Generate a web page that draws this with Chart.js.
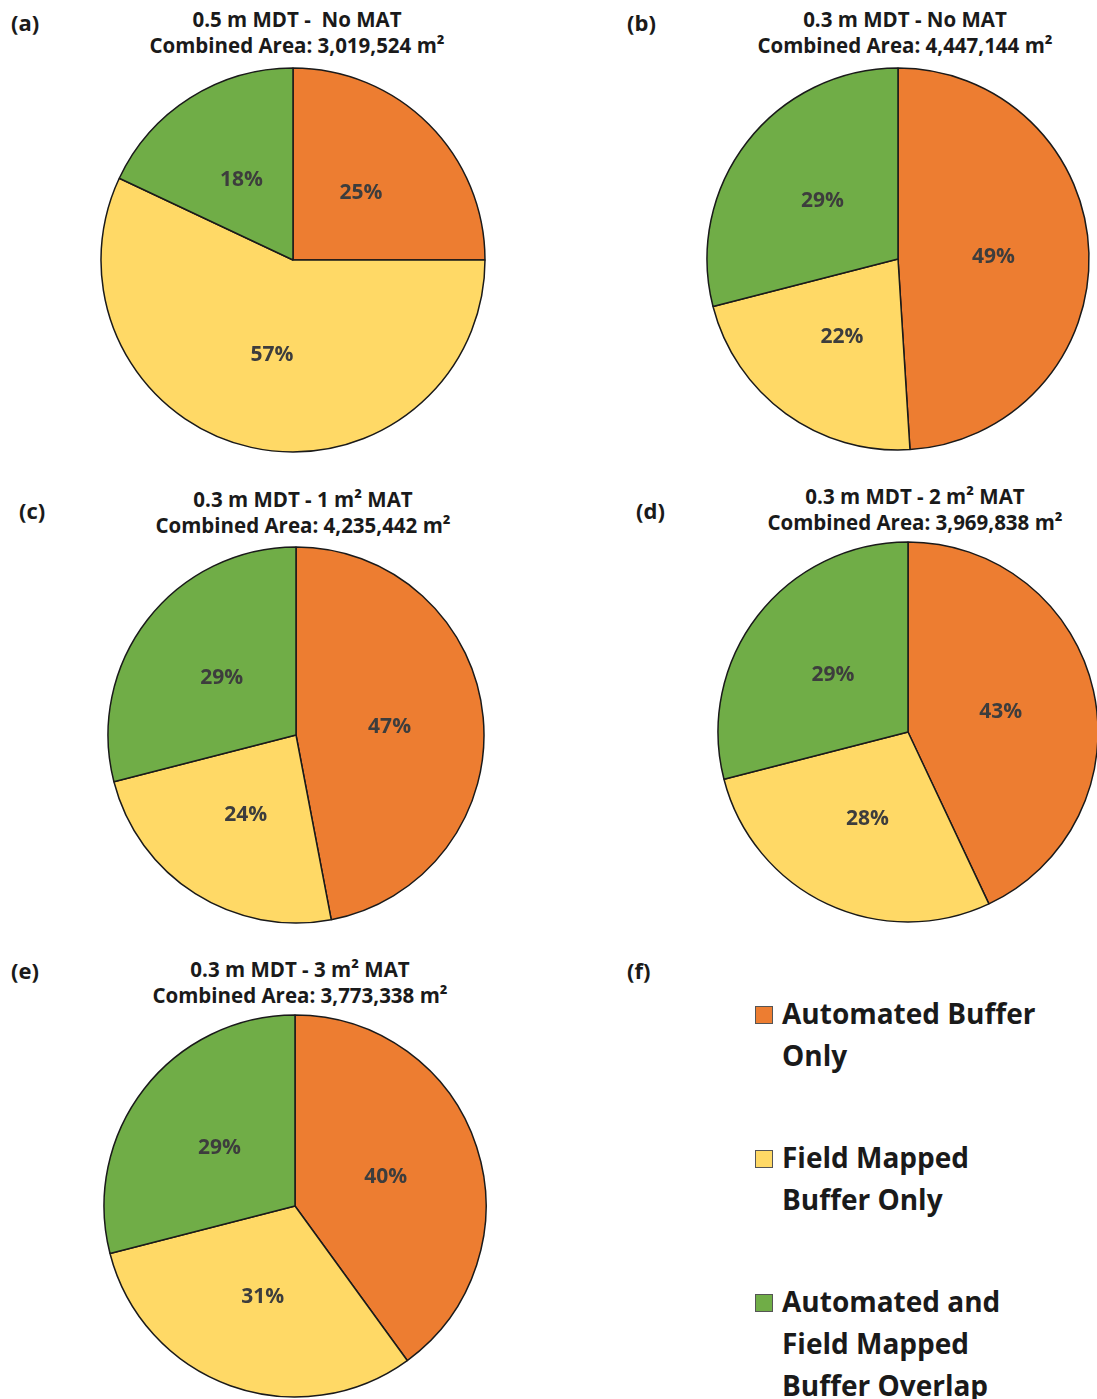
<!DOCTYPE html>
<html>
<head>
<meta charset="utf-8">
<script src="https://cdn.jsdelivr.net/npm/chart.js@4.4.0/dist/chart.umd.min.js"></script>
<style>
  body { margin: 0; background: #fff; font-family: "Open Sans", Lato, sans-serif; }
  #page { position: relative; width: 1097px; height: 1399px; overflow: hidden; }
  .letter { position: absolute; font-weight: bold; font-size: 22px; line-height: 28px; color: #1a1a1a; }
  .title { position: absolute; width: 420px; text-align: center; font-weight: bold; font-size: 20.5px;
           line-height: 25.5px; color: #1a1a1a; white-space: pre; }
  canvas.pie { position: absolute; }
  .legend-item { position: absolute; left: 755px; }
  .legend-box { position: absolute; left: 0; top: 14px; width: 16px; height: 16px; border: 1px solid #555; }
  .legend-text { position: absolute; left: 27px; top: 0; width: 330px; white-space: pre-line;
                 font-weight: bold; font-size: 28px; line-height: 42px; color: #1a1a1a; }
</style>
</head>
<body>
<div id="page"></div>
<script>
// --- data ---
const categories = ['Automated Buffer\nOnly', 'Field Mapped\nBuffer Only', 'Automated and\nField Mapped\nBuffer Overlap'];
const colors = ['#ED7D31', '#FFD966', '#70AD47'];

const panelLetters = ['(a)', '(b)', '(c)', '(d)', '(e)', '(f)'];
const panelTitles = ['0.5 m MDT -  No MAT', '0.3 m MDT - No MAT', '0.3 m MDT - 1 m² MAT',
                     '0.3 m MDT - 2 m² MAT', '0.3 m MDT - 3 m² MAT'];
const combinedAreas = ['3,019,524', '4,447,144', '4,235,442', '3,969,838', '3,773,338'];

const automatedOnly = [25, 49, 47, 43, 40];
const fieldOnly     = [57, 22, 24, 28, 31];
const overlap       = [18, 29, 29, 29, 29];

// --- layout (page pixels) ---
const letterPos = [[11, 8], [627, 8], [19, 496], [636, 496], [11, 956], [627, 956]];
const pieLayout = [
  { cx: 293, cy: 260, r: 192, tx: 297, ty: 7 },
  { cx: 898, cy: 259, r: 191, tx: 905, ty: 7 },
  { cx: 296, cy: 735, r: 188, tx: 303, ty: 487 },
  { cx: 908, cy: 732, r: 190, tx: 915, ty: 484 },
  { cx: 295, cy: 1206, r: 191, tx: 300, ty: 957 }
];
const legendTops = [992, 1136, 1280];

const page = document.getElementById('page');

panelLetters.forEach(function(t, i) {
  const d = document.createElement('div');
  d.className = 'letter';
  d.textContent = t;
  d.style.left = letterPos[i][0] + 'px';
  d.style.top = letterPos[i][1] + 'px';
  page.appendChild(d);
});

// percent labels inside slices
const sliceLabels = {
  id: 'sliceLabels',
  afterDatasetsDraw: function(chart) {
    const ctx = chart.ctx;
    const meta = chart.getDatasetMeta(0);
    const values = chart.data.datasets[0].data;
    ctx.save();
    ctx.font = 'bold 21px "Open Sans", Lato, sans-serif';
    ctx.fillStyle = '#3d3d3d';
    ctx.textAlign = 'center';
    ctx.textBaseline = 'middle';
    meta.data.forEach(function(arc, i) {
      const p = arc.getCenterPoint();
      ctx.fillText(values[i] + '%', p.x, p.y + 1);
    });
    ctx.restore();
  }
};

pieLayout.forEach(function(L, i) {
  const t = document.createElement('div');
  t.className = 'title';
  t.style.left = (L.tx - 210) + 'px';
  t.style.top = L.ty + 'px';
  t.textContent = panelTitles[i] + '\nCombined Area: ' + combinedAreas[i] + ' m²';
  page.appendChild(t);

  const size = 2 * L.r + 6;
  const c = document.createElement('canvas');
  c.className = 'pie';
  c.width = size;
  c.height = size;
  c.style.left = (L.cx - size / 2) + 'px';
  c.style.top = (L.cy - size / 2) + 'px';
  page.appendChild(c);

  new Chart(c, {
    type: 'pie',
    data: {
      labels: categories,
      datasets: [{
        data: [automatedOnly[i], fieldOnly[i], overlap[i]],
        backgroundColor: colors,
        borderColor: '#1a1a1a',
        borderWidth: 1.5
      }]
    },
    options: {
      responsive: false,
      animation: false,
      radius: L.r,
      layout: { padding: 0 },
      plugins: { legend: { display: false }, tooltip: { enabled: false } }
    },
    plugins: [sliceLabels]
  });
});

// legend panel (f)
categories.forEach(function(label, i) {
  const item = document.createElement('div');
  item.className = 'legend-item';
  item.style.top = legendTops[i] + 'px';
  const box = document.createElement('div');
  box.className = 'legend-box';
  box.style.background = colors[i];
  const txt = document.createElement('div');
  txt.className = 'legend-text';
  txt.textContent = label;
  item.appendChild(box);
  item.appendChild(txt);
  page.appendChild(item);
});
</script>
</body>
</html>
